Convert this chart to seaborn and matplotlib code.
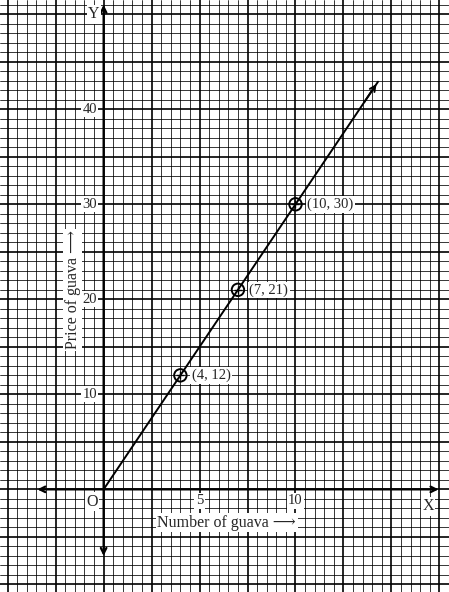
import matplotlib
matplotlib.use("Agg")
import matplotlib.pyplot as plt
import seaborn as sns
import numpy as np

sns.set_style("white")
plt.rcParams['font.family'] = ['Liberation Serif', 'DejaVu Serif']

points_x = [4, 7, 10]
points_y = [12, 21, 30]
labels = ["(4, 12)", "(7, 21)", "(10, 30)"]
line_x = [0, 14.3]
line_y = [0, 42.9]

fig = plt.figure(figsize=(4.49, 5.92), dpi=100)
ax = fig.add_axes([0, 0, 1, 1])
ax.set_xlim(-5.4, 18)
ax.set_ylim(-10.8, 51.5)
for v in np.arange(-5.0, 18.01, 0.5):
    major = abs(v / 2.5 - round(v / 2.5)) < 1e-6
    ax.axvline(v, color='black', lw=1.2 if major else 0.55, zorder=0)
for v in np.arange(-10, 52, 1):
    ax.axhline(v, color='black', lw=1.2 if v % 5 == 0 else 0.55, zorder=0)
ax.axis('off')

ax.annotate('', xy=(17.6, 0), xytext=(-3.6, 0), arrowprops=dict(arrowstyle='<->', lw=1.6, color='black'))
ax.annotate('', xy=(0, 51.3), xytext=(0, -7.3), arrowprops=dict(arrowstyle='<->', lw=1.6, color='black'))

sns.lineplot(x=line_x, y=line_y, ax=ax, color='black', lw=1.4)
ax.annotate('', xy=(14.3, 42.9), xytext=(13.5, 40.5), arrowprops=dict(arrowstyle='->', lw=1.4, color='black'))
sns.scatterplot(x=points_x, y=points_y, ax=ax, s=80, facecolor='none', edgecolor='black', linewidth=1.4, zorder=5)
sns.scatterplot(x=points_x, y=points_y, ax=ax, s=35, marker='+', color='black', linewidth=1, zorder=5)
bb = dict(facecolor='white', edgecolor='none', pad=1)
for x, y, t in zip(points_x, points_y, labels):
    ax.text(x + 0.6, y, t, fontsize=10.5, va='center', ha='left', bbox=bb)

for v in [10, 20, 30, 40]:
    ax.text(-0.35, v, str(v), fontsize=10.5, ha='right', va='center', bbox=bb)
for v in [5, 10]:
    ax.text(v, -1.2, str(v), fontsize=10.5, ha='center', va='center', bbox=bb)
ax.text(-0.6, -1.3, 'O', fontsize=11.5, ha='center', va='center', bbox=bb)
ax.text(-0.5, 50.0, 'Y', fontsize=11.5, ha='center', va='center', bbox=bb)
ax.text(16.9, -1.8, 'X', fontsize=11.5, ha='center', va='center', bbox=bb)
ax.text(2.8, -3.5, 'Number of guava ⟶', fontsize=11.5, ha='left', va='center', bbox=bb)
ax.text(-1.6, 21, 'Price of guava ⟶', fontsize=11.5, rotation=90, ha='center', va='center', bbox=bb)

fig.savefig('out.png', dpi=100)
